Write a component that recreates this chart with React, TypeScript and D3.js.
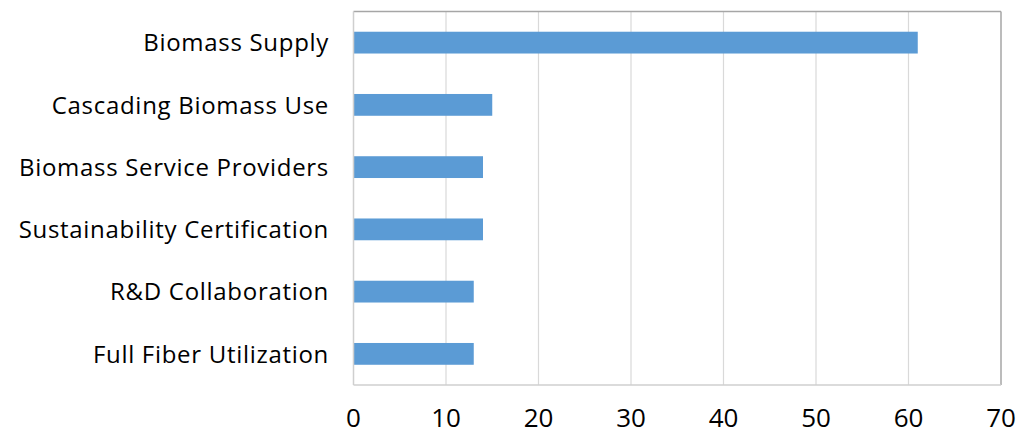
import React from "react";
import * as d3 from "d3";

const categories = [
  "Biomass Supply",
  "Cascading Biomass Use",
  "Biomass Service Providers",
  "Sustainability Certification",
  "R&D Collaboration",
  "Full Fiber Utilization",
];
const values = [61, 15, 14, 14, 13, 13];
const xTicks = [0, 10, 20, 30, 40, 50, 60, 70];

const W = 1020;
const H = 435;
const left = 353.5;
const right = 1001;
const top = 11.5;
const bottom = 385;
const FONT = "'Open Sans', 'DejaVu Sans', sans-serif";

export default function App() {
  const x = d3.scaleLinear().domain([0, 70]).range([left, right]);
  const y = d3
    .scaleBand<string>()
    .domain(categories)
    .range([top, bottom])
    .paddingInner(0.65)
    .paddingOuter(0.325);

  return (
    <svg
      width={W}
      height={H}
      style={{ position: "absolute", left: 0, top: 0, background: "#fff" }}
    >
      {xTicks.slice(1, -1).map((t) => (
        <line key={t} x1={x(t)} x2={x(t)} y1={top} y2={bottom} stroke="#d9d9d9" strokeWidth={1.2} />
      ))}
      {categories.map((c, i) => (
        <rect
          key={c}
          x={x(0)}
          y={y(c)}
          width={x(values[i]) - x(0)}
          height={y.bandwidth()}
          fill="#5B9BD5"
        />
      ))}
      <line x1={left} x2={right} y1={top} y2={top} stroke="#a6a6a6" strokeWidth={1.5} />
      <line x1={right} x2={right} y1={top} y2={bottom} stroke="#a6a6a6" strokeWidth={1.5} />
      <line x1={left} x2={left} y1={top} y2={bottom} stroke="#cfcfcf" strokeWidth={1.5} />
      <line x1={left} x2={right} y1={bottom} y2={bottom} stroke="#cfcfcf" strokeWidth={1.5} />
      {categories.map((c) => (
        <text
          key={c}
          x={329}
          y={(y(c) as number) + y.bandwidth() / 2}
          dy="0.36em"
          textAnchor="end"
          fontFamily={FONT}
          fontSize={24}
          letterSpacing={0.7}
          fill="#000"
        >
          {c}
        </text>
      ))}
      {xTicks.map((t) => (
        <text
          key={t}
          x={x(t)}
          y={427}
          textAnchor="middle"
          fontFamily={FONT}
          fontSize={26}
          fill="#000"
        >
          {t}
        </text>
      ))}
    </svg>
  );
}
